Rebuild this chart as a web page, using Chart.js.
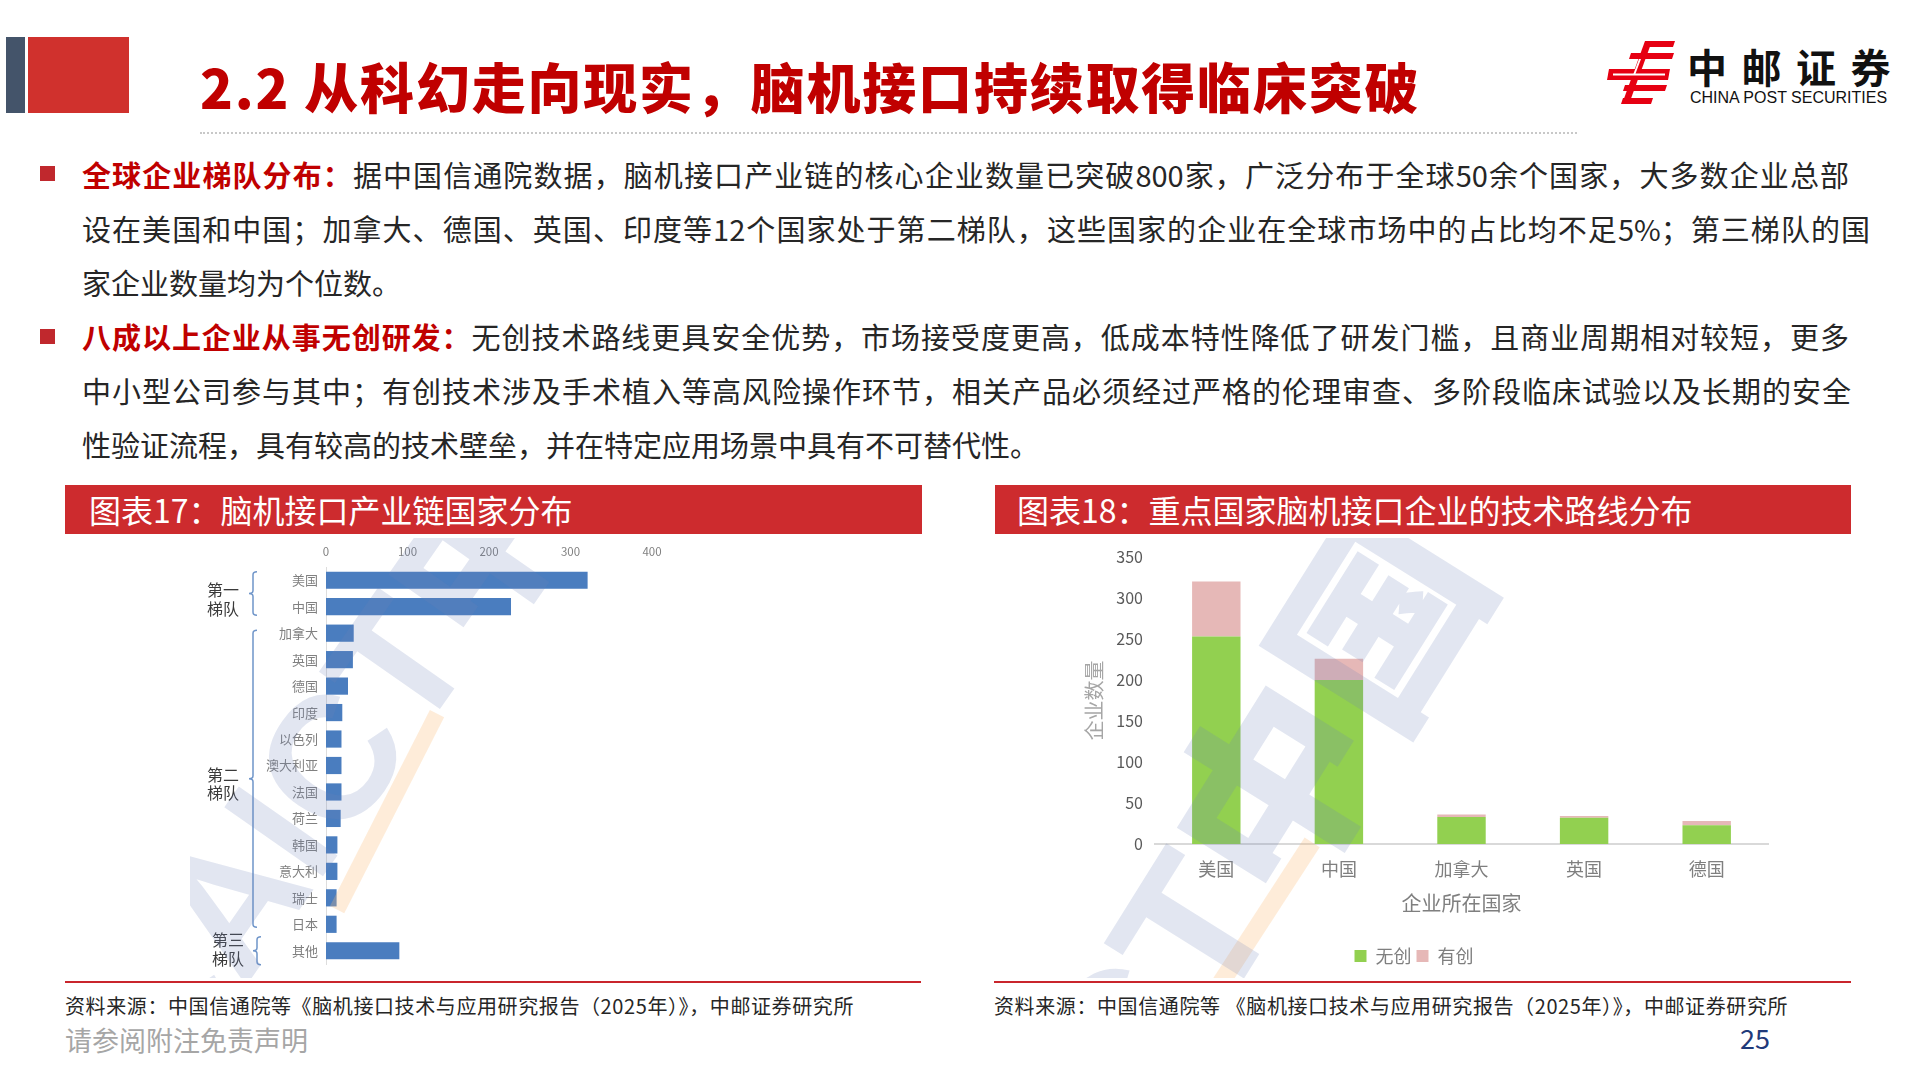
<!DOCTYPE html>
<html><head><meta charset="utf-8">
<script src="https://cdn.jsdelivr.net/npm/chart.js@4.4.0/dist/chart.umd.min.js"></script>
<style>
body{margin:0;width:1920px;height:1080px;position:relative;background:#fff;font-family:"Noto Sans CJK SC","Noto Sans",sans-serif;overflow:hidden}
.abs{position:absolute}
.line{white-space:nowrap;height:54px;line-height:54px}
.just{text-align:justify;text-align-last:justify}
.red{color:#C00000;font-weight:bold}
.bul{position:absolute;width:15px;height:15px;background:#C0282D;left:40px}
.hdr{position:absolute;top:485px;height:49px;background:#CD2B2E;color:#fff;font-size:32px;line-height:49px;white-space:nowrap}
.src{position:absolute;top:993px;font-size:20px;letter-spacing:0.6px;color:#262626;white-space:nowrap;line-height:26px}
.rl{position:absolute;top:981px;height:2px;background:#C9252C}
.wm{position:absolute;white-space:nowrap;font-weight:900;color:rgba(110,130,185,0.20);transform-origin:0 0;pointer-events:none;font-family:"Liberation Sans","Noto Sans CJK SC",sans-serif}
.stripe{position:absolute;background:rgba(250,185,120,0.28);transform-origin:0 0}
</style></head><body>

<div class="abs" style="left:6px;top:37px;width:19px;height:76px;background:#44546A"></div>
<div class="abs" style="left:28px;top:37px;width:101px;height:76px;background:#D0312D"></div>
<div class="abs" style="left:200px;top:59px;font-size:54px;line-height:54px;font-weight:900;color:#C00000;letter-spacing:1.8px;white-space:nowrap">2.2 从科幻走向现实，脑机接口持续取得临床突破</div>
<div class="abs" style="left:200px;top:132px;width:1377px;border-top:2px dotted #c8c8c8"></div>

<svg class="abs" style="left:1595px;top:35px" width="90" height="80" viewBox="0 0 90 80">
  <g fill="#E60012">
    <polygon points="52,6 80,6 78,12 50,12"/>
    <polygon points="36,18 79,18 77,24 34,24"/>
    <polygon points="14,34 75,34 73,45 12,45"/>
    <polygon points="30,50 72,50 70,56 28,56"/>
    <polygon points="28,63 58,63 56,69 26,69"/>
    <polygon points="50,6 57,6 34,69 27,69"/>
  </g>
  <rect x="18" y="38.5" width="52" height="2" fill="#fff"/>
  <polygon points="44,24 46,24 40,40 38,40" fill="#fff"/>
</svg>
<div class="abs" style="left:1687px;top:45px;font-size:40px;line-height:42px;font-weight:bold;color:#111;letter-spacing:14.5px;white-space:nowrap">中邮证券</div>
<div class="abs" style="left:1690px;top:89px;font-size:16px;line-height:18px;font-family:'Liberation Sans',Arial,sans-serif;color:#111;white-space:nowrap">CHINA POST SECURITIES</div>

<div class="bul" style="top:166px"></div>
<div class="bul" style="top:329px"></div>
<div class="abs" style="left:82px;top:147px;font-size:29px;color:#262626">
  <div class="line just" style="width:1767px"><span class="red">全球企业梯队分布：</span>据中国信通院数据，脑机接口产业链的核心企业数量已突破800家，广泛分布于全球50余个国家，大多数企业总部</div>
  <div class="line just" style="width:1788px">设在美国和中国；加拿大、德国、英国、印度等12个国家处于第二梯队，这些国家的企业在全球市场中的占比均不足5%；第三梯队的国</div>
  <div class="line">家企业数量均为个位数。</div>
  <div class="line just" style="width:1767px"><span class="red">八成以上企业从事无创研发：</span>无创技术路线更具安全优势，市场接受度更高，低成本特性降低了研发门槛，且商业周期相对较短，更多</div>
  <div class="line just" style="width:1769px">中小型公司参与其中；有创技术涉及手术植入等高风险操作环节，相关产品必须经过严格的伦理审查、多阶段临床试验以及长期的安全</div>
  <div class="line">性验证流程，具有较高的技术壁垒，并在特定应用场景中具有不可替代性。</div>
</div>

<div class="hdr" style="left:65px;width:857px"><span style="margin-left:24px">图表17：脑机接口产业链国家分布</span></div>
<div class="hdr" style="left:995px;width:856px"><span style="margin-left:22px">图表18：重点国家脑机接口企业的技术路线分布</span></div>

<canvas id="c17" class="abs" style="left:196px;top:540px" width="510" height="435"></canvas>
<canvas id="c18" class="abs" style="left:1060px;top:540px" width="720" height="440"></canvas>

<!-- faint watermark -->
<div class="abs" style="left:190px;top:538px;width:530px;height:440px;overflow:hidden;pointer-events:none">
  <div class="stripe" style="left:140px;top:368px;width:220px;height:16px;transform:rotate(-63deg)"></div>
  <div class="wm" style="left:-140px;top:470px;font-size:175px;line-height:175px;transform:rotate(-55deg)">CAICT中国</div>
</div>
<div class="abs" style="left:1060px;top:538px;width:730px;height:440px;overflow:hidden;pointer-events:none">
  <div class="stripe" style="left:152px;top:442px;width:170px;height:18px;transform:rotate(-57deg)"></div>
  <div class="wm" style="left:-90px;top:560px;font-size:200px;line-height:200px;transform:rotate(-58deg)">ICT中国</div>
</div>

<div class="rl" style="left:65px;width:856px"></div>
<div class="rl" style="left:994px;width:857px"></div>
<div class="src" style="left:65px">资料来源：中国信通院等《脑机接口技术与应用研究报告（2025年）》，中邮证券研究所</div>
<div class="src" style="left:994px">资料来源：中国信通院等 《脑机接口技术与应用研究报告（2025年）》，中邮证券研究所</div>
<div class="abs" style="left:65px;top:1024px;font-size:27px;line-height:32px;color:#a6a6a6;white-space:nowrap">请参阅附注免责声明</div>
<div class="abs" style="left:1740px;top:1022px;font-size:27px;line-height:32px;color:#1F3A7A">25</div>

<script>
// ---- Chart 17 data ----
const countries17 = ['美国','中国','加拿大','英国','德国','印度','以色列','澳大利亚','法国','荷兰','韩国','意大利','瑞士','日本','其他'];
const companies17 = [321,227,34,33,27,20,19,19,19,18,14,14,13,13,90];
const ticks17 = [0,100,200,300,400];
const tierNames17 = [['第一','梯队'],['第二','梯队'],['第三','梯队']];
const tierFrom17 = [0,2,14];
const tierTo17 = [1,13,14];

// ---- Chart 18 data ----
const countries18 = ['美国','中国','加拿大','英国','德国'];
const nonInvasive18 = [253,200,33,32,23];
const invasive18 = [67,26,3,2,5];
const ticks18 = [0,50,100,150,200,250,300,350];

Chart.defaults.font.family = '"Noto Sans CJK SC","Noto Sans",sans-serif';

const tierPlugin = {
  id:'tiers',
  afterDraw(chart, args, opts){
    const {ctx, scales:{y}} = chart;
    ctx.save();
    tierNames17.forEach((name,i)=>{
      const st = opts.styles[i];
      const y1 = y.getPixelForValue(tierFrom17[i]) - st.pad;
      const y2 = y.getPixelForValue(tierTo17[i]) + st.pad;
      const ym = (y1+y2)/2;
      const x = st.x;
      ctx.strokeStyle = '#6F95C9';
      ctx.lineWidth = 1.5;
      ctx.beginPath();
      ctx.moveTo(x+4,y1);
      ctx.quadraticCurveTo(x,y1,x,y1+3);
      ctx.lineTo(x,ym-3);
      ctx.quadraticCurveTo(x,ym,x-4,ym);
      ctx.quadraticCurveTo(x,ym,x,ym+3);
      ctx.lineTo(x,y2-3);
      ctx.quadraticCurveTo(x,y2,x+4,y2);
      ctx.stroke();
      ctx.fillStyle = '#3A3A3A';
      ctx.font = '16px "Noto Sans CJK SC"';
      ctx.textAlign = 'left';
      ctx.textBaseline = 'middle';
      ctx.fillText(name[0], st.tx, ym + st.o1);
      ctx.fillText(name[1], st.tx, ym + st.o2);
    });
    ctx.restore();
  }
};

new Chart(document.getElementById('c17'), {
  type:'bar',
  data:{labels:countries17, datasets:[{data:companies17, backgroundColor:'#4A7DBF', barPercentage:0.65, categoryPercentage:1}]},
  options:{
    indexAxis:'y', responsive:false, animation:false,
    layout:{padding:{top:0,right:54,bottom:11,left:0}},
    plugins:{legend:{display:false}, tooltip:{enabled:false},
      tiers:{styles:[{x:57,pad:8.5,tx:11,o1:-4,o2:15},{x:57,pad:3,tx:11,o1:-4,o2:14},{x:61,pad:14,tx:16,o1:-11,o2:8}]}},
    scales:{
      x:{position:'top', min:ticks17[0], max:ticks17[ticks17.length-1],
         afterBuildTicks(s){s.ticks = ticks17.map(v=>({value:v}));},
         ticks:{color:'#808080', font:{size:11.5}, padding:8},
         grid:{display:false, drawTicks:false}, border:{display:false},
         afterFit(s){s.height=27;}},
      y:{ticks:{color:'#808080', font:{size:13}, padding:8},
         grid:{display:false, drawTicks:false}, border:{display:true, color:'#DDDDDD', width:1},
         afterFit(s){s.width=130; s.paddingTop=0; s.paddingBottom=0;}}
    }
  },
  plugins:[tierPlugin]
});

new Chart(document.getElementById('c18'), {
  type:'bar',
  data:{labels:countries18, datasets:[
    {label:'无创', data:nonInvasive18, backgroundColor:'#92D050', barPercentage:0.395, categoryPercentage:1},
    {label:'有创', data:invasive18, backgroundColor:'#E6B8B7', barPercentage:0.395, categoryPercentage:1}
  ]},
  options:{
    responsive:false, animation:false,
    layout:{padding:{top:17,right:12,bottom:5,left:0}},
    plugins:{tooltip:{enabled:false},
      legend:{position:'bottom', labels:{boxWidth:12, boxHeight:12, padding:5, color:'#7F7F7F', font:{size:18}}}},
    scales:{
      x:{stacked:true, grid:{display:false, drawTicks:false}, border:{display:true, color:'#D9D9D9', width:2},
         ticks:{color:'#7F7F7F', font:{size:18}, padding:14},
         title:{display:true, text:'企业所在国家', color:'#7F7F7F', font:{size:20}, padding:{top:4,bottom:27}},
         afterFit(s){s.height=98;}},
      y:{stacked:true, min:ticks18[0], max:ticks18[ticks18.length-1],
         afterBuildTicks(s){s.ticks = ticks18.map(v=>({value:v}));},
         ticks:{color:'#595959', font:{size:16}, padding:12},
         grid:{display:false, drawTicks:false}, border:{display:false},
         title:{display:true, text:'企业数量', color:'#A6A6A6', font:{size:20}, padding:{top:22,bottom:0}},
         afterFit(s){s.width=95; s.paddingTop=0; s.paddingBottom=0;}}
    }
  }
});
</script>
</body></html>
